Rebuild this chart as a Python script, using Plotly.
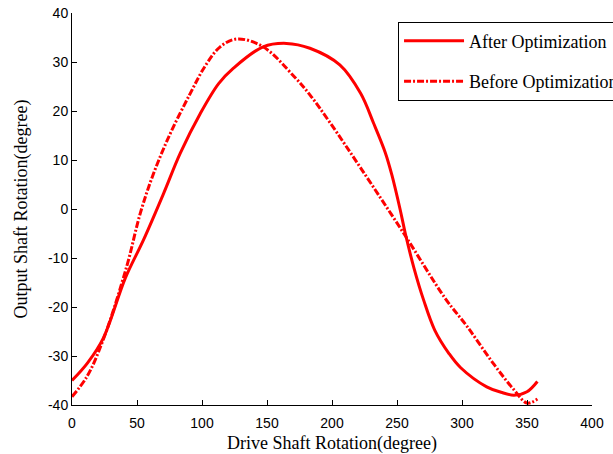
import plotly.graph_objects as go

# After Optimization (solid)
after_x = [0, 12, 24, 41, 55, 70.5, 83.3, 98.7, 112.8, 124, 147, 165, 183, 206, 222, 232, 241, 246, 252.5, 256.4, 263, 270.5, 279, 290, 299, 319, 330, 340, 350, 358]
after_y = [-35.0, -31.4, -26.4, -14.1, -6.3, 3.2, 11.4, 19.5, 25.6, 28.7, 33.1, 33.8, 32.8, 29.4, 23.6, 17.5, 11.5, 7.0, -0.2, -5.0, -12.0, -18.6, -24.7, -29.5, -32.4, -36.3, -37.4, -38.0, -37.3, -35.2]

# Before Optimization (dash-dot)
before_x = [0, 11.5, 24, 42, 52.5, 62.8, 75.6, 91, 102.5, 114, 127, 147, 171, 183, 198, 223, 255, 287, 304, 324, 340, 350, 358]
before_y = [-38.3, -34.2, -26.7, -11.8, -0.9, 7.3, 15.4, 23.6, 29.2, 33.1, 34.7, 33.1, 27.0, 23.3, 17.8, 8.0, -4.9, -18.2, -24.0, -31.5, -36.9, -39.6, -38.8]

x_ticks = [0, 50, 100, 150, 200, 250, 300, 350, 400]
y_ticks = [-40, -30, -20, -10, 0, 10, 20, 30, 40]

red = "#ff0000"

fig = go.Figure()
fig.add_trace(go.Scatter(x=after_x, y=after_y, mode="lines", name="After Optimization",
                         legendgroup="a",
                         line=dict(color=red, width=3, shape="spline", smoothing=1.0)))
fig.add_trace(go.Scatter(x=before_x, y=before_y, mode="lines", name="Before Optimization",
                         legendgroup="b",
                         line=dict(color=red, width=3, dash="7px,2px,2px,2px", shape="spline", smoothing=1.0)))

fig.update_layout(
    width=613, height=454,
    margin=dict(l=72, r=21, t=13, b=49, autoexpand=False),
    paper_bgcolor="white", plot_bgcolor="white",
    showlegend=True,
    legend=dict(
        x=0.627, y=0.978, xanchor="left", yanchor="top",
        bgcolor="white", bordercolor="black", borderwidth=1,
        font=dict(family="Liberation Serif", size=18, color="black"),
        itemwidth=60, tracegroupgap=14,
    ),
    xaxis=dict(
        range=[0, 400], tickvals=x_ticks, ticktext=[str(v) for v in x_ticks],
        showgrid=False, zeroline=False, showline=True, linecolor="black", linewidth=1,
        ticks="inside", ticklen=5, tickcolor="black", automargin=False,
        ticklabelstandoff=5, ticklabeloverflow="allow",
        tickfont=dict(family="Liberation Sans", size=14, color="black"),
        title=dict(text="Drive Shaft Rotation(degree)", font=dict(family="Liberation Serif", size=18, color="black")),
    ),
    yaxis=dict(
        range=[-40, 40], tickvals=y_ticks, ticktext=[str(v) for v in y_ticks],
        showgrid=False, zeroline=False, showline=True, linecolor="black", linewidth=1,
        ticks="inside", ticklen=5, tickcolor="black", automargin=False,
        ticklabeloverflow="allow",
        tickfont=dict(family="Liberation Sans", size=14, color="black"),
        title=dict(text="Output Shaft Rotation(degree)", font=dict(family="Liberation Serif", size=18, color="black")),
    ),
)

fig.write_html(
    "out.html",
    config={"displayModeBar": False},
    post_script="document.body.style.margin='0';document.body.style.overflow='hidden';",
)
